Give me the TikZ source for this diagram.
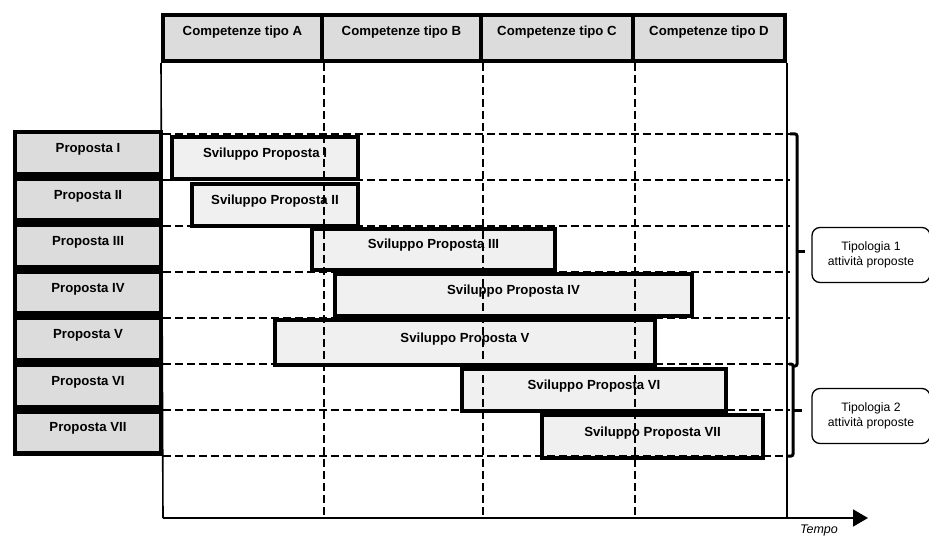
\documentclass[tikz,border=0pt]{standalone}
\usepackage{fontspec}
\setmainfont{Liberation Sans}
\usetikzlibrary{positioning,arrows.meta}
\definecolor{boxgray}{HTML}{DCDCDC}
\definecolor{bargray}{HTML}{F0F0F0}

\begin{document}
\begin{tikzpicture}[x=1pt,y=-1pt,
    hdr/.style={draw,line width=4pt,fill=boxgray,minimum height=46pt,inner sep=0pt,
      font=\bfseries\fontsize{13.2}{15}\selectfont,text height=9pt,text depth=14pt},
    prop/.style={draw,line width=4.5pt,fill=boxgray,minimum width=146pt,minimum height=42pt,inner sep=0pt,
      font=\bfseries\fontsize{13.2}{15}\selectfont,text height=9pt,text depth=10pt},
    bar/.style={draw,line width=4.5pt,fill=bargray,inner sep=0pt,
      font=\bfseries\fontsize{13.2}{15}\selectfont,text height=9pt,text depth=10pt},
    tip/.style={draw,line width=1.3pt,rounded corners=8pt,minimum width=118pt,minimum height=55pt,
      align=center,font=\fontsize{12.2}{15}\selectfont},
    grid/.style={line width=2pt,dash pattern=on 8pt off 4pt},
    brace/.style={line width=3pt,rounded corners=2pt}]
    \useasboundingbox (0,0) rectangle (929,537);

    \node[hdr,minimum width=159pt] (ha) at (242.5,38) {Competenze tipo A};
    \node[hdr,minimum width=159pt] (hb) at (401.5,38) {Competenze tipo B};
    \node[hdr,minimum width=152pt] (hc) at (557,38) {Competenze tipo C};
    \node[hdr,minimum width=152pt] (hd) at (709,38) {Competenze tipo D};

    \coordinate (o) at (163,518);
    \coordinate (t) at (868,518);
    \draw[line width=1.6pt] (ha.south west) -- (o);
    \draw[line width=1.6pt] (hd.south east) -- (hd.south east |- o);

    \node[bar,minimum width=186pt,minimum height=42pt] (s1) at (265,158) {Sviluppo Proposta I};
    \node[bar,minimum width=166pt,minimum height=42pt] (s2) at (275,205) {Sviluppo Proposta II};
    \node[bar,minimum width=243pt,minimum height=41pt] (s3) at (433.5,249.5) {Sviluppo Proposta III};
    \node[bar,minimum width=357pt,minimum height=42pt] (s4) at (513.5,295) {Sviluppo Proposta IV};
    \node[bar,minimum width=380pt,minimum height=45pt] (s5) at (465,342.5) {Sviluppo Proposta V};
    \node[bar,minimum width=264pt,minimum height=42pt] (s6) at (594,390) {Sviluppo Proposta VI};
    \node[bar,minimum width=221pt,minimum height=43pt] (s7) at (652.5,436.5) {Sviluppo Proposta VII};

    \draw[grid] (ha.south east) -- (ha.south east |- o);
    \draw[grid] (hb.south east) -- (hb.south east |- o);
    \draw[grid] (hc.south east) -- (hc.south east |- o);
    \draw[grid] (163,134) -- (790,134);
    \draw[grid] (163,180) -- (790,180);
    \draw[grid] (163,226) -- (790,226);
    \draw[grid] (163,272) -- (790,272);
    \draw[grid] (163,318) -- (790,318);
    \draw[grid] (163,364) -- (790,364);
    \draw[grid] (163,410) -- (790,410);
    \draw[grid] (163,456) -- (790,456);

    \node[prop] (p1) at (88,153.25) {Proposta I};
    \node[prop] (p2) at (88,199.75) {Proposta II};
    \node[prop] (p3) at (88,246.25) {Proposta III};
    \node[prop] (p4) at (88,292.75) {Proposta IV};
    \node[prop] (p5) at (88,339.25) {Proposta V};
    \node[prop] (p6) at (88,385.75) {Proposta VI};
    \node[prop] (p7) at (88,432.25) {Proposta VII};

    \node[tip] (t1) at (871,255) {Tipologia 1\\attività proposte};
    \node[tip] (t2) at (871,416) {Tipologia 2\\attività proposte};

    \draw[brace] (790,134) -| (797,366) -- (792,366);
    \draw[brace] (797,252) -- ++(8,0);
    \draw[brace] (789,364) -| (793,456) -- (787,456);
    \draw[brace] (793,410) -- ++(9,0);

    \draw[line width=1.6pt,-{Triangle[length=15pt,width=17pt]}] (o) -- (t);
    \node[font=\itshape\fontsize{12.5}{15}\selectfont] (tm) at (819,530) {Tempo};
  \end{tikzpicture}
\end{document}
